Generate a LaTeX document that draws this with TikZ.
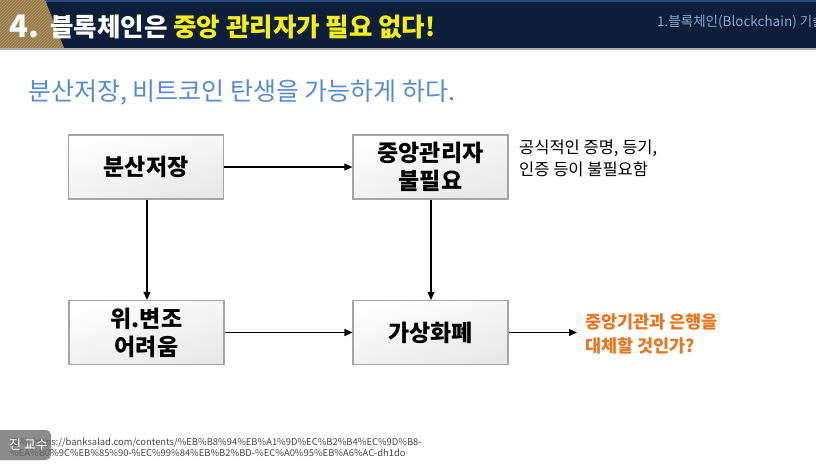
\documentclass[tikz,border=0pt]{standalone}
\usepackage{fontspec}
\setmainfont{Noto Sans CJK KR}
\usetikzlibrary{arrows.meta,patterns,shadings}
\definecolor{navy}{RGB}{12,30,58}
\definecolor{navytop}{RGB}{40,70,120}
\definecolor{gold}{RGB}{150,124,76}
\definecolor{goldline}{RGB}{180,154,104}
\definecolor{ttlyellow}{RGB}{246,240,20}
\definecolor{subblue}{RGB}{86,139,210}
\definecolor{hdrtext}{RGB}{130,170,205}
\definecolor{boxline}{RGB}{165,165,165}
\definecolor{boxfill}{RGB}{232,232,232}
\definecolor{orangetxt}{RGB}{232,118,30}
\definecolor{urlgray}{RGB}{70,70,70}
\tikzset{
  flowbox/.style={draw=boxline, line width=1.2pt, top color=white, bottom color=boxfill,
    shading angle=15, minimum width=155pt, minimum height=64pt, inner sep=0pt,
    align=center, font=\fontsize{23}{28}\selectfont\bfseries},
  flowarrow/.style={draw=black, line width=1.1pt, -{Triangle[length=8pt,width=7pt]}},
  note/.style={align=left, anchor=west, inner sep=0pt, font=\fontsize{16.5}{22}\selectfont}
}
\begin{document}
\begin{tikzpicture}[x=1pt,y=-1pt]
\useasboundingbox (0,0) rectangle (816,467);
\fill[white] (0,0) rectangle (816,467);
% header
\fill[navy] (0,0) rectangle (816,48);
\fill[navytop] (44,0) rectangle (816,1.5);
\fill[gold] (0,0) -- (45,0) -- (64,48) -- (0,48) -- cycle;
\fill[pattern=north east lines, pattern color=goldline] (0,0) -- (45,0) -- (64,48) -- (0,48) -- cycle;
\fill[gray!65] (0,48) rectangle (816,50);
\node[anchor=base west, inner sep=0pt, text=white, font=\fontsize{31}{31}\selectfont\bfseries] (num) at (9,37) {4.};
\node[anchor=base west, inner sep=0pt, font=\fontsize{25.5}{25.5}\selectfont\bfseries] (title) at (50,36)
  {\textcolor{white}{블록체인은} \textcolor{ttlyellow}{중앙 관리자가 필요 없다!}};
\begin{scope}
\clip (0,0) rectangle (816,48);
\node[anchor=west, inner sep=0pt, text=hdrtext, font=\fontsize{13.5}{14}\selectfont] (hdr) at (657,22) {1.블록체인(Blockchain) 기술};
\end{scope}
% subtitle
\node[anchor=west, inner sep=0pt, text=subblue, font=\fontsize{25}{26}\selectfont] (sub) at (28,93) {분산저장, 비트코인 탄생을 가능하게 하다.};
% boxes
\node[flowbox] (A) at (146,167) {분산저장};
\node[flowbox] (B) at (430.5,167) {중앙관리자\\불필요};
\node[flowbox] (C) at (146.5,332.5) {위.변조\\어려움};
\node[flowbox] (D) at (430.5,332.5) {가상화폐};
% notes
\node[note] (n1) at (519,158) {공식적인 증명, 등기,\\인증 등이 불필요함};
\node[note, text=orangetxt, font=\fontsize{17.5}{24.5}\selectfont\bfseries] (n2) at (585,334) {중앙기관과 은행을\\대체할 것인가?};
\coordinate (n2in) at (577,332.5);
% arrows
\draw[flowarrow] (A) -- (B);
\draw[flowarrow] (A.south -| 147,0) -- (C.north -| 147,0);
\draw[flowarrow] (B.south -| 431,0) -- (D.north -| 431,0);
\draw[flowarrow] (C) -- (D);
\draw[flowarrow] (D) -- (n2in);
% footnote
\node[anchor=north west, align=left, inner sep=0pt, text=urlgray, font=\fontsize{9.4}{11}\selectfont] (url) at (10,437)
  {출처: https://banksalad.com/contents/\%EB\%B8\%94\%EB\%A1\%9D\%EC\%B2\%B4\%EC\%9D\%B8-\\\%EA\%B0\%9C\%EB\%85\%90-\%EC\%99\%84\%EB\%B2\%BD-\%EC\%A0\%95\%EB\%A6\%AC-dh1do};
\fill[black!60, opacity=0.75, rounded corners=5pt] (-6,430) rectangle (51,460);
\node[anchor=east, inner sep=0pt, text=white, font=\fontsize{13}{14}\selectfont] (wm) at (48,445) {진 교수};
\end{tikzpicture}
\end{document}
